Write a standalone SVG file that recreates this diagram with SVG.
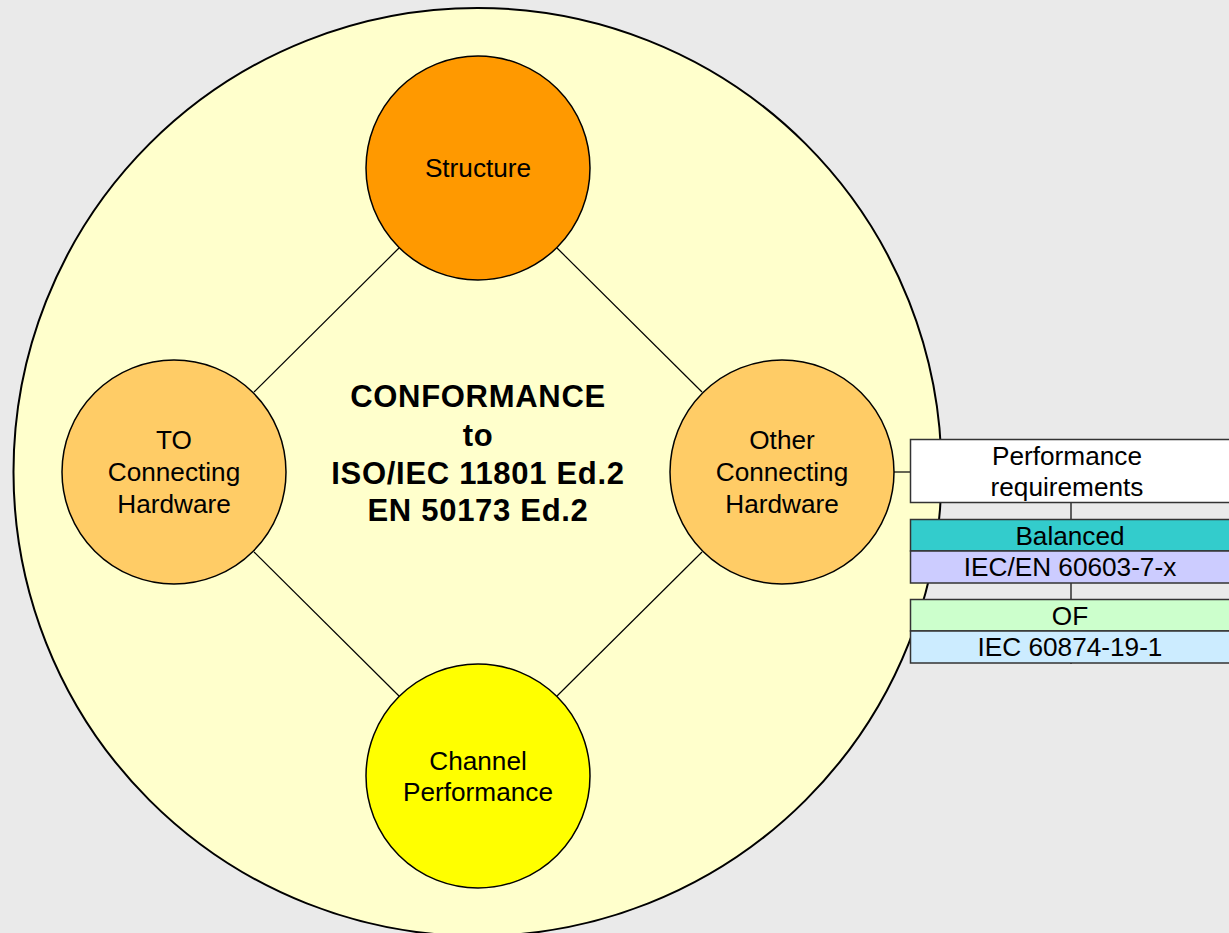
<svg xmlns="http://www.w3.org/2000/svg" width="1229" height="933" viewBox="0 0 1229 933">
<style>
text{font-family:"Liberation Sans",Arial,sans-serif;fill:#000;text-anchor:middle}
.n{font-size:26.2px}
.b{font-size:31px;font-weight:bold;letter-spacing:0.7px}
.node{stroke:#000;stroke-width:1.5}
.box{stroke:#333;stroke-width:1.5}
.conn line{stroke:#000;stroke-width:1.2}
</style>
<rect width="1229" height="933" fill="#EAEAEA"/>
<g id="outer"><circle cx="477.5" cy="472" r="464" fill="#FFFFCC" stroke="#000" stroke-width="2"/></g>
<g class="conn" id="connectors">
<line x1="399" y1="248" x2="254" y2="392"/>
<line x1="557" y1="248" x2="702" y2="392"/>
<line x1="254" y1="552" x2="399" y2="696"/>
<line x1="702" y1="552" x2="557" y2="696"/>
<line x1="894" y1="472" x2="911" y2="472"/>
<line x1="1071" y1="503" x2="1071" y2="664"/>
</g>
<g id="title">
<text class="b" x="478" y="407">CONFORMANCE</text>
<text class="b" x="478" y="446">to</text>
<text class="b" x="478" y="484">ISO/IEC 11801 Ed.2</text>
<text class="b" x="478" y="521">EN 50173 Ed.2</text>
</g>
<g id="structure"><circle class="node" cx="478" cy="168" r="112" fill="#FF9900"/><text class="n" x="478" y="177">Structure</text></g>
<g id="to"><circle class="node" cx="174" cy="472" r="112" fill="#FFCC66"/><text class="n" x="174" y="449">TO</text><text class="n" x="174" y="481">Connecting</text><text class="n" x="174" y="513">Hardware</text></g>
<g id="other"><circle class="node" cx="782" cy="472" r="112" fill="#FFCC66"/><text class="n" x="782" y="449">Other</text><text class="n" x="782" y="481">Connecting</text><text class="n" x="782" y="513">Hardware</text></g>
<g id="channel"><circle class="node" cx="478" cy="776" r="112" fill="#FFFF00"/><text class="n" x="478" y="770">Channel</text><text class="n" x="478" y="801">Performance</text></g>
<g id="perf"><rect class="box" x="910.5" y="439.5" width="330" height="63" fill="#FFFFFF"/><text class="n" x="1067" y="465">Performance</text><text class="n" x="1067" y="496">requirements</text></g>
<g id="balanced"><rect class="box" x="910.5" y="519.5" width="330" height="31.5" fill="#33CCCC"/><text class="n" x="1070" y="545">Balanced</text></g>
<g id="iecen"><rect class="box" x="910.5" y="551" width="330" height="32" fill="#CCCCFF"/><text class="n" x="1070" y="576">IEC/EN 60603-7-x</text></g>
<g id="of"><rect class="box" x="910.5" y="599.5" width="330" height="31.5" fill="#CCFFCC"/><text class="n" x="1070" y="625">OF</text></g>
<g id="iec"><rect class="box" x="910.5" y="631" width="330" height="32" fill="#CCECFF"/><text class="n" x="1070" y="656">IEC 60874-19-1</text></g>
</svg>
